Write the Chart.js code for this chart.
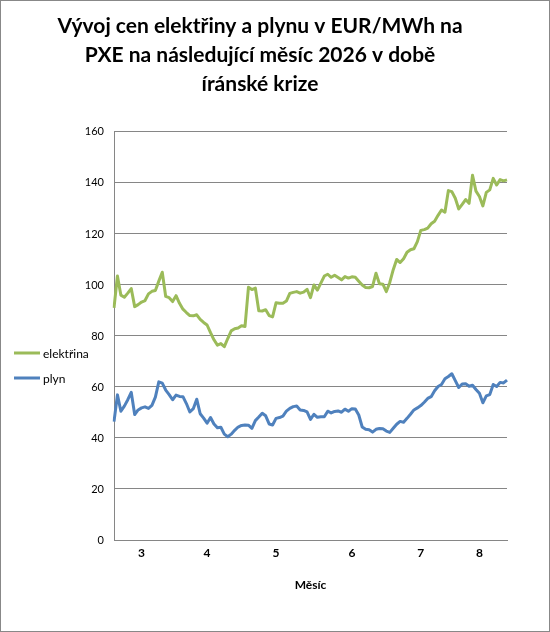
<!DOCTYPE html>
<html>
<head>
<meta charset="utf-8">
<script src="https://cdn.jsdelivr.net/npm/chart.js@4.4.1/dist/chart.umd.min.js"></script>
<style>
  html, body { margin: 0; padding: 0; background: #fff; }
</style>
</head>
<body>
<canvas id="priceChart" width="550" height="632"></canvas>
<script>
// month tick labels and the trading-day index they sit at
var monthLabels = ["3", "4", "5", "6", "7", "8"];
var monthAt = [8, 27, 47, 69, 89, 106];

// EUR/MWh, one value per trading day
var elektrina = [
  91, 103.5, 96, 95.2, 96.8, 98.6, 91.5, 92.3, 93.3, 93.9,
  96.5, 97.5, 97.8, 101.5, 105, 95.5, 95, 93.5, 95.8, 92.8,
  90.5, 89.2, 88, 87.9, 88.3, 86.5, 85.3, 84.3, 81.3, 78.5,
  76.4, 77, 75.8, 79, 82, 82.8, 83.1, 84, 83.7, 99.1,
  98.2, 98.8, 89.9, 89.8, 90.3, 88, 87.5, 93, 92.8, 92.8,
  93.7, 96.7, 97.1, 97.4, 96.8, 97.2, 98.3, 95, 100, 98,
  100.7, 103.5, 104.2, 103, 103.8, 102.9, 102, 103.3, 102.7, 103.2,
  103, 101.5, 100, 99, 98.9, 99.4, 104.6, 100.5, 100.3, 97.4,
  101, 106, 110, 108.8, 110.3, 112.8, 113.8, 114.2, 117, 121.4,
  121.7, 122.3, 124, 125, 127.3, 129.4, 128.5, 137, 136.6, 134,
  129.8, 131.6, 133.5, 132, 143, 136.8, 134.7, 131, 136.3, 137.3,
  141.8, 139.2, 141.3, 140.8, 141.2
];
var plyn = [
  46.4, 56.9, 50.5, 52.5, 55, 57.9, 49.2, 51, 51.8, 52.2,
  51.6, 52.8, 56, 62, 61.5, 58.8, 57, 55, 56.8, 56.3,
  56.2, 53.5, 50.2, 51.5, 55.2, 49.5, 47.8, 45.8, 48, 45.5,
  44, 44.2, 41.5, 40.5, 41.5, 43, 44.3, 44.9, 45.1, 45,
  43.8, 46.8, 48.2, 49.7, 48.7, 45.5, 45.1, 47.7, 48, 48.6,
  50.5, 51.6, 52.3, 52.5, 51, 50.8, 50.2, 47.3, 49.3, 48.1,
  48.3, 48.3, 50.5, 49.8, 50.4, 50.6, 50.1, 51.3, 50.5, 51.5,
  51.4, 49, 44.3, 43.4, 43.2, 42.3, 43.4, 43.7, 43.6, 42.7,
  42.2, 43.8, 45.4, 46.5, 46.2, 47.7, 49.3, 51, 51.8, 52.7,
  54, 55.5, 56.2, 58.5, 60.2, 61, 63.2, 64.1, 65.2, 62.5,
  59.8, 61.2, 61.3, 60.3, 60.7, 59, 57.5, 53.8, 56.5, 57,
  61, 60.2, 61.8, 61.6, 62.7
];

var labels = elektrina.map(function (v, i) {
  var k = monthAt.indexOf(i);
  return k >= 0 ? monthLabels[k] : "";
});

Chart.defaults.font.family = "Lato";
Chart.defaults.color = "#000";

var frame = {
  id: "frame",
  afterDraw: function (chart) {
    var c = chart.ctx;
    c.save();
    c.strokeStyle = "#888";
    c.lineWidth = 1;
    c.strokeRect(0.5, 0.5, chart.width - 1, chart.height - 1);
    c.restore();
  }
};

// legend sits at the left, outside the normal layout
var sideLegend = {
  id: "sideLegend",
  afterDraw: function (chart) {
    var c = chart.ctx;
    c.save();
    c.font = "12px Lato";
    c.textBaseline = "middle";
    c.fillStyle = "#000";
    chart.data.datasets.forEach(function (ds, i) {
      var y = 353 + i * 25;
      c.strokeStyle = ds.borderColor;
      c.lineWidth = 3;
      c.beginPath();
      c.moveTo(14, y);
      c.lineTo(40, y);
      c.stroke();
      c.fillText(ds.label, 43, y + 1);
    });
    c.restore();
  }
};

var ctx = document.getElementById("priceChart").getContext("2d");
var priceChart = new Chart(ctx, {
  type: "line",
  data: {
    labels: labels,
    datasets: [
      {
        label: "elektřina",
        data: elektrina,
        borderColor: "#9BBB59",
        borderWidth: 3,
        pointRadius: 0,
        borderJoinStyle: "round"
      },
      {
        label: "plyn",
        data: plyn,
        borderColor: "#4F81BD",
        borderWidth: 3,
        pointRadius: 0,
        borderJoinStyle: "round"
      }
    ]
  },
  options: {
    responsive: false,
    animation: false,
    layout: { padding: { left: 13, right: 43, top: 0, bottom: 32 } },
    plugins: {
      legend: { display: false },
      tooltip: { enabled: false },
      title: {
        display: true,
        text: [
          "Vývoj cen elektřiny a plynu v EUR/MWh na",
          "PXE na následující měsíc 2026 v době",
          "íránské krize"
        ],
        font: { size: 21, weight: "bold", lineHeight: 1.38 },
        padding: { top: 12, bottom: 33 },
        color: "#000"
      }
    },
    scales: {
      x: {
        grid: { display: false, drawTicks: false },
        border: { color: "#868686" },
        ticks: {
          autoSkip: false,
          maxRotation: 0,
          padding: 6,
          font: { size: 12, weight: "bold" },
          callback: function (v, i) { return labels[i]; }
        },
        title: {
          display: true,
          text: "Měsíc",
          font: { size: 12, weight: "bold" },
          padding: { top: 8, bottom: 8 }
        },
        afterFit: function (s) { s.height = 60; }
      },
      y: {
        min: 0,
        max: 160,
        grid: { color: "#868686", drawTicks: false },
        border: { color: "#868686" },
        ticks: { stepSize: 20, padding: 10, font: { size: 11 } },
        afterFit: function (s) { s.width = 101; }
      }
    }
  },
  plugins: [frame, sideLegend]
});
</script>
</body>
</html>
